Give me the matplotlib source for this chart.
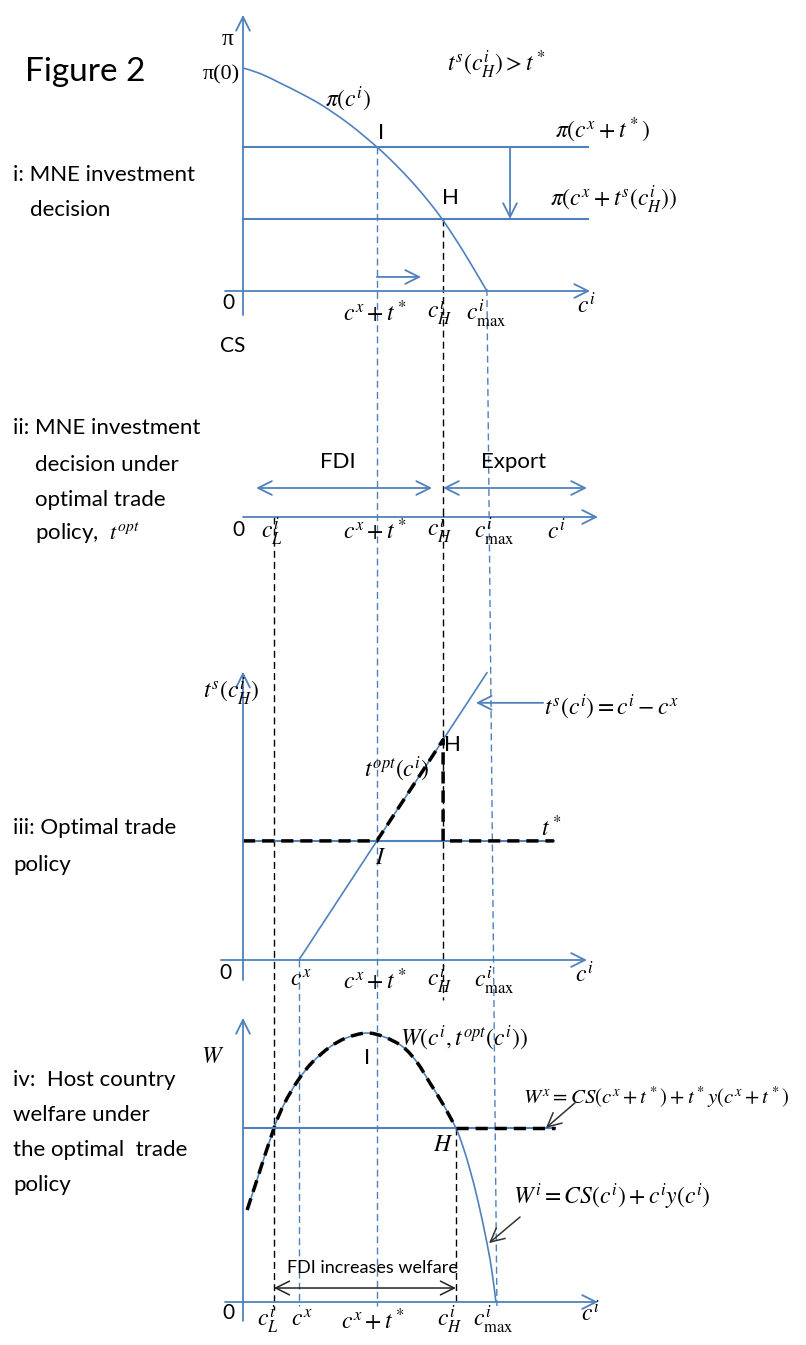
import matplotlib
matplotlib.use('Agg')
import matplotlib.pyplot as plt
from matplotlib.path import Path
from matplotlib.patches import PathPatch

W_PX, H_PX = 806, 1345
X0, XS = 243, 3.45          # pixel column of c = 0, pixels per cost unit

BLUE = '#4F81BD'
SANS = ['Liberation Sans Narrow', 'Lato', 'DejaVu Sans']
SERIF = ['Liberation Serif', 'DejaVu Serif']

plt.rcParams['mathtext.fontset'] = 'stix'
plt.rcParams['font.family'] = SANS

# key cost levels on the c^i axis
c_L = 9.0
c_x = 16.2
c_xt = 38.8          # c^x + t*
c_H = 58.0
c_H_w = 61.7         # where W^i drops back to W^x
c_max = 70.7
t_star = c_xt - c_x

# panel i: MNE profit from FDI
pi_c = [0, 5, 10.7, 17, 23.2, 31, 38.8, 44, 49.3, 54, 57.7, 61, 63.8, 67, 70.7]
pi_v = [100, 97.5, 93.3, 88.4, 83.0, 74.6, 64.6, 57, 48.4, 39.8, 32.3, 24.7, 17.9, 9.7, 0]
pi_export = 64.6     # pi(c^x + t*)
pi_switch = 32.3     # pi(c^x + t^s(c_H))

# panel iii: prohibitive tariff t^s(c) = c - c^x
ts_c = [c_x, c_max]
ts_v = [0.0, c_max - c_x]
# optimal tariff schedule
topt_c = [0, c_xt, c_H, c_H, 90.1]
topt_v = [t_star, t_star, c_H - c_x, t_star, t_star]

# panel iv: host country welfare
w_c = [1.2, 4.1, 9.0, 12.0, 15.9, 20.0, 25.2, 30.0, 35.9, 41.0, 46.4, 50.5,
       54.2, 58.0, 61.7, 63.8, 65.8, 68.1, 70.7, 72.2, 73.3]
w_v = [34.2, 45.6, 64.7, 73.8, 82.3, 89.0, 94.8, 98.2, 100.0, 98.5, 94.8, 89.0,
       81.4, 73.5, 64.7, 57.6, 49.1, 37.6, 22.0, 11.0, 0.0]
w_export = 64.7

fig = plt.figure(figsize=(W_PX / 100, H_PX / 100), dpi=100)


def panel(base, scale):
    # full-figure axes; value v sits at pixel row base - scale * v
    ax = fig.add_axes([0, 0, 1, 1])
    ax.set_xlim(-X0 / XS, (W_PX - X0) / XS)
    ax.set_ylim((base - H_PX) / scale, base / scale)
    ax.axis('off')
    ax.patch.set_alpha(0)
    return ax


def smooth(ax, xs, ys, **kw):
    # Catmull-Rom curve through the points, drawn as cubic Bezier segments
    pts = list(zip(xs, ys))
    ext = [pts[0]] + pts + [pts[-1]]
    verts, codes = [pts[0]], [Path.MOVETO]
    for i in range(1, len(ext) - 2):
        p0, p1, p2, p3 = ext[i - 1], ext[i], ext[i + 1], ext[i + 2]
        c1 = (p1[0] + (p2[0] - p0[0]) / 6, p1[1] + (p2[1] - p0[1]) / 6)
        c2 = (p2[0] - (p3[0] - p1[0]) / 6, p2[1] - (p3[1] - p1[1]) / 6)
        verts += [c1, c2, p2]
        codes += [Path.CURVE4] * 3
    ax.add_patch(PathPatch(Path(verts, codes), fill=False, **kw))


def arrow(ax, start, end, color=BLUE, lw=1.3, style='->'):
    ax.annotate('', xy=end, xytext=start,
                arrowprops=dict(arrowstyle=style + ',head_length=0.9,head_width=0.45',
                                color=color, lw=lw, shrinkA=0, shrinkB=0,
                                mutation_scale=11))


def label(ax, x, y, s, size=17, ha='center', **kw):
    ax.text(x, y, s, fontsize=size, ha=ha, va='center', **kw)


def ftext(x, y, s, size=16, **kw):
    fig.text(x / W_PX, 1 - y / H_PX, s, fontsize=size, ha='left', va='center', **kw)


thin_dash = (0, (5, 3))
thick_dash = (0, (3.5, 2))

# vertical guide lines running through the panels (pixel rows)
guide = fig.add_axes([0, 0, 1, 1])
guide.set_xlim(-X0 / XS, (W_PX - X0) / XS)
guide.set_ylim(H_PX, 0)
guide.axis('off')
guide.plot([c_xt, c_xt], [147, 1306], color=BLUE, lw=1, ls=thin_dash)
guide.plot([c_x, c_x], [960, 1306], color=BLUE, lw=1, ls=thin_dash)
guide.plot([c_max, c_max + 2.9], [289, 1306], color=BLUE, lw=1, ls=thin_dash)
guide.plot([c_H, c_H], [219, 1000], color='black', lw=1, ls=thin_dash)
guide.plot([c_L, c_L], [517, 1310], color='black', lw=1, ls=thin_dash)
guide.plot([c_H_w, c_H_w], [1128, 1302], color='black', lw=1, ls=thin_dash)

# ---- panel i: investment decision ----
a1 = panel(291, 2.23)
arrow(a1, (0, -10.8), (0, 123.8))
arrow(a1, (-5.2, 0), (100.6, 0))
smooth(a1, pi_c, pi_v, color=BLUE, lw=1.2)
a1.plot([0, 100], [pi_export, pi_export], color=BLUE, lw=1.5)
a1.plot([0, 100], [pi_switch, pi_switch], color=BLUE, lw=1.5)
arrow(a1, (77.4, pi_export), (77.4, pi_switch))
arrow(a1, (c_xt, 6.3), (51.6, 6.3))

label(a1, -4.6, 112.6, 'π', size=17, family=SERIF)
label(a1, -6.4, 96.9, 'π(0)', size=16, family=SERIF)
label(a1, 73.6, 101.3, r'$t^s(c^i_H) > t^*$')
label(a1, 30.4, 85.7, r'$\pi(c^i)$')
label(a1, 40.0, 70.9, 'I', size=16)
label(a1, 104.3, 72.2, r'$\pi(c^x + t^*)$')
label(a1, 60.0, 41.7, 'H', size=16)
label(a1, 107.5, 40.8, r'$\pi(c^x + t^s(c^i_H))$')
label(a1, -4.1, -5.4, '0', size=15)
label(a1, 38.3, -9.4, r'$c^x + t^*$')
label(a1, 57.1, -9.4, r'$c^i_H$')
label(a1, 70.4, -10.3, r'$c^i_{\max}$')
label(a1, 99.4, -5.8, r'$c^i$')
label(a1, -2.9, -24.7, 'CS', size=15)

# ---- panel ii: FDI versus export ----
a2 = panel(517, 1.0)
arrow(a2, (0, 0), (102.9, 0))
arrow(a2, (3.8, 29), (54.8, 29), style='<->')
arrow(a2, (c_H, 29), (99.7, 29), style='<->')
label(a2, 27.5, 55, 'FDI', size=16)
label(a2, 78.3, 55, 'Export', size=16)
label(a2, -1.2, -13, '0', size=15)
label(a2, 8.4, -15, r'$c^i_L$')
label(a2, 38.3, -13, r'$c^x + t^*$')
label(a2, 57.1, -13, r'$c^i_H$')
label(a2, 72.8, -15, r'$c^i_{\max}$')
label(a2, 90.7, -13, r'$c^i$')

# ---- panel iii: optimal trade policy ----
a3 = panel(960, 5.27)
arrow(a3, (0, -3.8), (0, 54.7))
arrow(a3, (-6.4, 0), (99.7, 0))
a3.plot(ts_c, ts_v, color=BLUE, lw=1.2)
a3.plot([0, 90.1], [t_star, t_star], color=BLUE, lw=1.5)
a3.plot(topt_c, topt_v, color='black', lw=2.5, ls=thick_dash)
arrow(a3, (87.0, 48.8), (67.5, 48.8))
label(a3, -3.5, 50.9, r'$t^s(c^i_H)$')
label(a3, 60.6, 40.8, 'H', size=16)
label(a3, 44.6, 36.1, r'$t^{opt}(c^i)$')
label(a3, 89.3, 25.2, r'$t^*$')
label(a3, 40.0, 19.5, r'$I$')
label(a3, 87.2, 48.0, r'$t^s(c^i) = c^i - c^x$', ha='left')
label(a3, -5.2, -2.5, '0', size=15)
label(a3, 16.8, -3.8, r'$c^x$')
label(a3, 38.3, -3.8, r'$c^x + t^*$')
label(a3, 57.1, -3.8, r'$c^i_H$')
label(a3, 72.8, -4.0, r'$c^i_{\max}$')
label(a3, 98.8, -2.5, r'$c^i$')

# ---- panel iv: host country welfare ----
a4 = panel(1302, 2.69)
arrow(a4, (0, -7), (0, 105.6))
arrow(a4, (-5.2, 0), (102.9, 0))
smooth(a4, w_c, w_v, color=BLUE, lw=1.2)
a4.plot([0, 90.4], [w_export, w_export], color=BLUE, lw=1.5)
n_opt = sum(c <= c_H_w for c in w_c)
smooth(a4, w_c[:n_opt], w_v[:n_opt], color='black', lw=2.5, ls=thick_dash)
a4.plot([c_H_w, 90.4], [w_export, w_export], color='black', lw=2.5, ls=thick_dash)
arrow(a4, (96.2, 74.0), (87.8, w_export), color='#333333', lw=1.1)
arrow(a4, (80.3, 31.6), (71.3, 21.9), color='#333333', lw=1.1)
arrow(a4, (c_L, 5.2), (c_H_w, 5.2), color='#222222', lw=1.1, style='<->')
label(a4, -8.7, 91.1, r'$W$')
label(a4, 35.9, 90.7, 'I', size=16)
label(a4, 45.5, 98.1, r'$W(c^i, t^{opt}(c^i))$', ha='left')
label(a4, 81.2, 76.2, r'$W^x = CS(c^x + t^*) + t^* y(c^x + t^*)$', size=15, ha='left')
label(a4, 58.0, 58.4, r'$H$')
label(a4, 78.3, 39.0, r'$W^i = CS(c^i) + c^i y(c^i)$', ha='left')
label(a4, 37.4, 12.6, 'FDI increases welfare', size=13)
label(a4, -4.3, -4.1, '0', size=15)
label(a4, 7.2, -6.7, r'$c^i_L$')
label(a4, 17.1, -6.7, r'$c^x$')
label(a4, 37.7, -6.7, r'$c^x + t^*$')
label(a4, 60.0, -6.7, r'$c^i_H$')
label(a4, 72.5, -6.7, r'$c^i_{\max}$')
label(a4, 100.6, -3.7, r'$c^i$')

# ---- panel captions ----
ftext(25, 72, 'Figure 2', size=24)
ftext(13, 175, 'i: MNE investment')
ftext(30, 210, 'decision')
ftext(13, 428, 'ii: MNE investment')
ftext(35, 465, 'decision under')
ftext(35, 500, 'optimal trade')
ftext(35, 533, r'policy,  $t^{opt}$')
ftext(13, 828, 'iii: Optimal trade')
ftext(13, 865, 'policy')
ftext(13, 1080, 'iv:  Host country')
ftext(13, 1115, 'welfare under')
ftext(13, 1150, 'the optimal  trade')
ftext(13, 1185, 'policy')

fig.savefig('out.png', dpi=100, facecolor='white')
